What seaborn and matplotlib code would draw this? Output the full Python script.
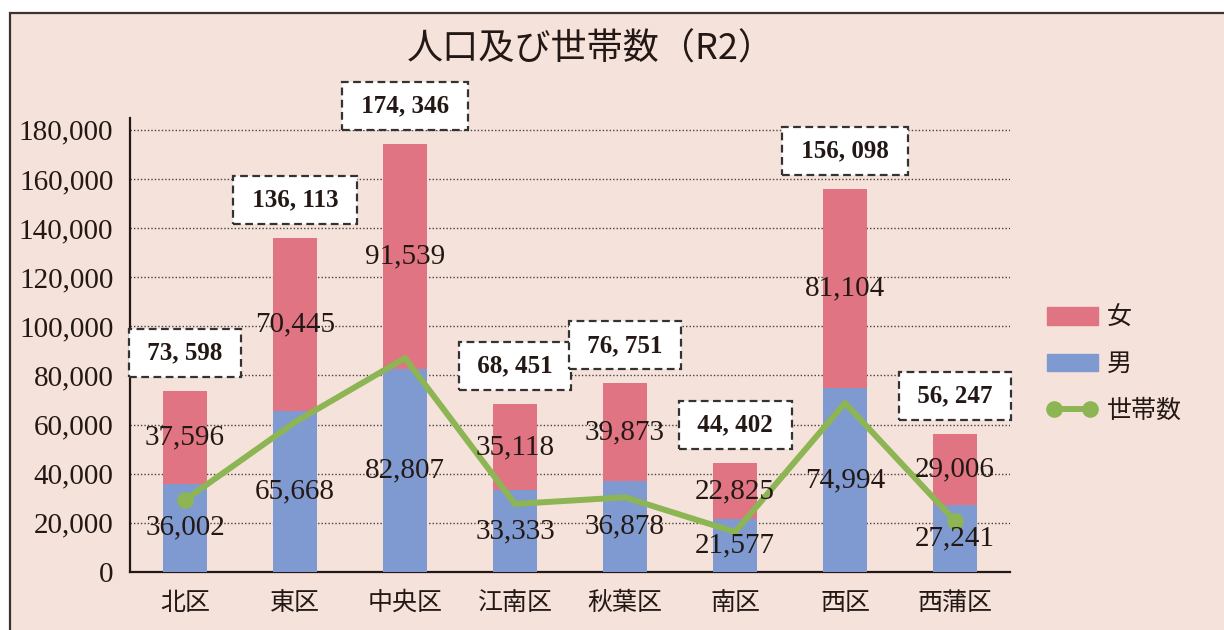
import matplotlib
matplotlib.use('Agg')
import matplotlib.pyplot as plt
import matplotlib.patches as mpatches
from matplotlib.lines import Line2D
import seaborn as sns
import numpy as np

districts = ['北区', '東区', '中央区', '江南区', '秋葉区', '南区', '西区', '西蒲区']
male = [36002, 65668, 82807, 33333, 36878, 21577, 74994, 27241]
female = [37596, 70445, 91539, 35118, 39873, 22825, 81104, 29006]
totals = [73598, 136113, 174346, 68451, 76751, 44402, 156098, 56247]
households = [29300, 61000, 87100, 27700, 30400, 16300, 68800, 20800]
yticks = [0, 20000, 40000, 60000, 80000, 100000, 120000, 140000, 160000, 180000]

BG = '#F5E3DB'
PINK = '#E07482'
BLUE = '#7E9AD0'
GREEN = '#8DB553'
INK = '#231815'

sns.set_theme(style='white')
plt.rcParams['font.family'] = ['Liberation Serif', 'Noto Sans CJK JP']

fig = plt.figure(figsize=(12.24, 6.3), dpi=100, facecolor='white')
frame = mpatches.Rectangle((9.5 / 1224, -0.1), 1.2, 0.1 + 1 - 13 / 630, transform=fig.transFigure,
                           facecolor=BG, edgecolor='#3a3330', linewidth=1.6, zorder=-5)
fig.patches.append(frame)

ax = fig.add_axes([130 / 1224, 1 - 572 / 630, 880 / 1224, (572 - 118) / 630])
ax.set_facecolor(BG)

# stacked bars: total (pink) behind, male (blue) in front
sns.barplot(x=districts, y=totals, color=PINK, width=0.4, saturation=1, linewidth=0,
            edgecolor='none', ax=ax, zorder=2)
sns.barplot(x=districts, y=male, color=BLUE, width=0.4, saturation=1, linewidth=0,
            edgecolor='none', ax=ax, zorder=3)
sns.lineplot(x=districts, y=households, color=GREEN, linewidth=4.3, marker='o', markersize=12,
             markevery=[0, len(districts) - 1], markeredgewidth=0, sort=False, ax=ax, zorder=4)

ax.set_xlim(-0.5, len(districts) - 0.5)
ax.set_ylim(0, 184800)
ax.set_yticks(yticks)
ax.set_yticklabels([f'{v:,}' for v in yticks], fontsize=21, color=INK)
ax.set_xticks(range(len(districts)))
ax.set_xticklabels(districts, fontsize=18, color=INK, family=['Noto Sans CJK JP'])
ax.tick_params(axis='y', length=0, pad=12)
ax.tick_params(axis='x', length=0, pad=13)
for v in yticks[1:]:
    ax.axhline(v, color='#4a4040', linestyle=(0, (1, 1.5)), linewidth=1.0, zorder=1)
for side in ['top', 'right']:
    ax.spines[side].set_visible(False)
for side in ['left', 'bottom']:
    ax.spines[side].set_color(INK)
    ax.spines[side].set_linewidth(1.6)
ax.set_xlabel('')
ax.set_ylabel('')

for i in range(len(districts)):
    ax.text(i, male[i] / 2, f'{male[i]:,}', ha='center', va='center', fontsize=21, color=INK, zorder=6)
    ax.text(i, male[i] + female[i] / 2, f'{female[i]:,}', ha='center', va='center', fontsize=21,
            color=INK, zorder=6)
    ax.annotate(' ' + f'{totals[i]:,}'.replace(',', ', ') + ' ', (i, totals[i]), xytext=(0, 38),
                textcoords='offset pixels', ha='center', va='center', fontsize=18, fontweight='bold',
                color=INK, family=['Liberation Serif'], zorder=7,
                bbox=dict(boxstyle='square,pad=0.5', facecolor='white', edgecolor='#333333',
                          linestyle=(0, (3.5, 2)), linewidth=1.6))

fig.text(591 / 1224, 1 - 50 / 630, '人口及び世帯数（R2）', ha='center', va='center', fontsize=26,
         color=INK, family=['Noto Sans CJK JP'])

handles = [mpatches.Patch(color=PINK, label='女'),
           mpatches.Patch(color=BLUE, label='男'),
           Line2D([0], [0], color=GREEN, linewidth=4.3, marker='o', markersize=12,
                  markeredgewidth=0, label='世帯数')]
leg = fig.legend(handles=handles, loc='upper left', bbox_to_anchor=(1024 / 1224, 1 - 282 / 630),
                 frameon=False, numpoints=2, handlelength=2.05, handleheight=0.7,
                 labelspacing=0.82, handletextpad=0.35, prop={'family': ['Noto Sans CJK JP'], 'size': 18})
for t in leg.get_texts():
    t.set_color(INK)

fig.savefig('out.png', dpi=100, facecolor='white')
